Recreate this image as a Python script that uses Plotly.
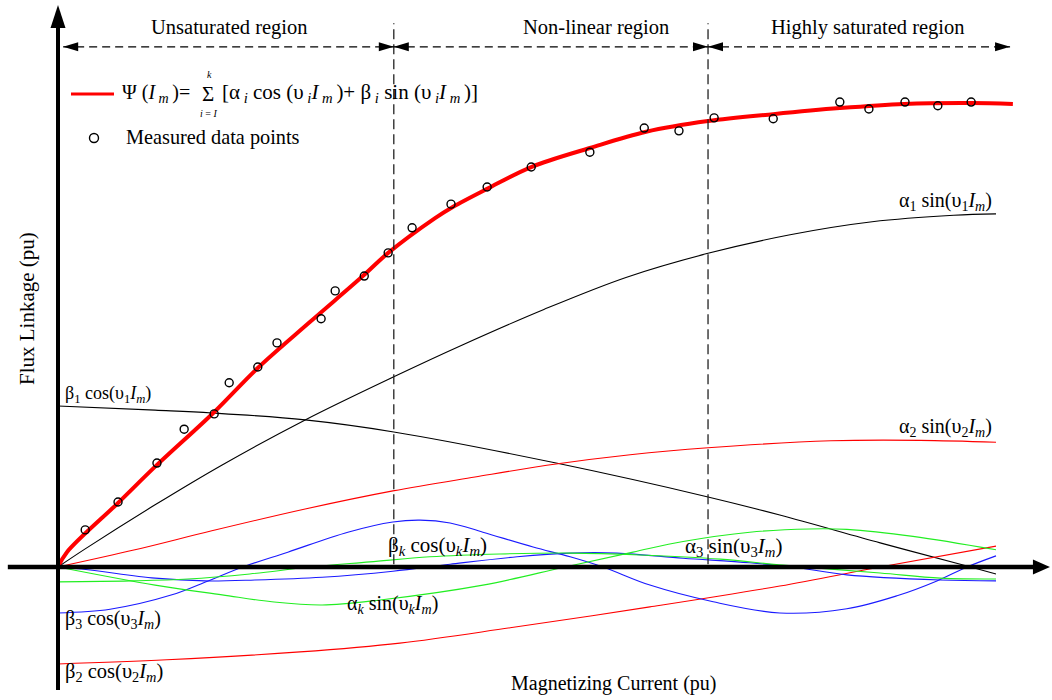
import plotly.graph_objects as go

W, H = 1052, 700
FONT = "Liberation Serif, Times New Roman, serif"

# ---- flux linkage curve Psi(Im) (pu) ----
psi_im = [0, 0.019, 0.128, 0.211, 0.331, 0.426, 0.537, 0.650, 0.704, 0.804, 0.840,
          0.915, 1.009, 1.134, 1.254, 1.386, 1.525, 1.667, 1.804, 1.947, 2.036]
psi_val = [0, 0.032, 0.138, 0.220, 0.332, 0.429, 0.528, 0.627, 0.677, 0.752, 0.775,
           0.815, 0.862, 0.903, 0.938, 0.961, 0.976, 0.989, 0.998, 1.000, 0.998]

# ---- measured data points ----
meas_im = [0.058, 0.128, 0.211, 0.269, 0.333, 0.365, 0.426, 0.467, 0.561, 0.591, 0.653,
           0.704, 0.755, 0.838, 0.915, 1.009, 1.134, 1.250, 1.324, 1.399, 1.525, 1.667,
           1.729, 1.806, 1.876, 1.947]
meas_val = [0.080, 0.140, 0.224, 0.297, 0.330, 0.397, 0.431, 0.483, 0.535, 0.595, 0.627,
            0.677, 0.731, 0.782, 0.819, 0.862, 0.894, 0.946, 0.940, 0.968, 0.966, 1.002,
            0.987, 1.002, 0.994, 1.002]

# ---- harmonic components ----
a1_im = [0, 0.058, 0.207, 0.350, 0.527, 0.716, 0.861, 1.036, 1.211, 1.386, 1.561, 1.736, 1.910, 2.0]
a1_val = [0, 0.039, 0.134, 0.220, 0.317, 0.410, 0.478, 0.555, 0.624, 0.676, 0.716, 0.744, 0.758, 0.761]

b1_im = [0, 0.207, 0.328, 0.527, 0.716, 1.062, 1.386, 1.539, 1.753, 1.938, 2.0]
b1_val = [0.347, 0.338, 0.332, 0.317, 0.291, 0.224, 0.151, 0.112, 0.052, 0.002, -0.015]

a2_im = [0, 0.164, 0.328, 0.527, 0.714, 0.889, 1.062, 1.220, 1.386, 1.648, 1.838, 2.0]
a2_val = [0, 0.037, 0.078, 0.125, 0.164, 0.194, 0.222, 0.242, 0.257, 0.272, 0.273, 0.269]

b2_im = [0, 0.232, 0.516, 0.729, 0.964, 1.262, 1.539, 1.753, 2.0]
b2_val = [-0.209, -0.200, -0.183, -0.164, -0.131, -0.086, -0.041, 0.0, 0.045]

b3_im = [0, 0.111, 0.243, 0.320, 0.394, 0.490, 0.618, 0.714, 0.772, 0.836, 0.906, 1.013,
         1.092, 1.162, 1.262, 1.397, 1.539, 1.682, 1.789, 1.874, 1.938, 2.0]
b3_val = [-0.099, -0.091, -0.060, -0.030, 0, 0.032, 0.075, 0.097, 0.101, 0.095, 0.075, 0.043,
          0.022, 0, -0.039, -0.075, -0.099, -0.090, -0.062, -0.030, 0, 0.024]

ak_im = [0, 0.207, 0.350, 0.456, 0.563, 0.687, 0.906, 1.081, 1.226, 1.333, 1.475, 1.603, 1.682, 1.823, 2.0]
ak_val = [0, -0.039, -0.060, -0.075, -0.082, -0.071, -0.039, 0, 0.032, 0.055, 0.075, 0.082, 0.081, 0.066, 0.037]

a3_im = [0, 0.154, 0.277, 0.409, 0.537, 0.665, 0.793, 0.942, 1.092, 1.241, 1.412, 1.546, 1.753, 1.881, 2.0]
a3_val = [-0.032, -0.030, -0.026, -0.015, 0, 0.011, 0.022, 0.028, 0.030, 0.026, 0.017, 0.004, -0.013, -0.024, -0.026]

bk_im = [0, 0.064, 0.207, 0.313, 0.420, 0.563, 0.714, 0.836, 0.979, 1.092, 1.192, 1.333, 1.475, 1.567, 1.682, 1.881, 2.0]
bk_val = [0, -0.006, -0.024, -0.030, -0.028, -0.022, -0.009, 0.006, 0.022, 0.030, 0.030, 0.019, 0.009, 0, -0.017, -0.028, -0.030]

# ---- operating regions ----
region_bounds = [0.716, 1.386]
region_names = ["Unsaturated region", "Non-linear region", "Highly saturated region"]

RED, GREEN, BLUE, BLACK = "#ff0000", "#22ee22", "#1a1aff", "#000000"

fig = go.Figure()

components = [
    (a1_im, a1_val, BLACK),
    (b1_im, b1_val, BLACK),
    (a2_im, a2_val, RED),
    (b2_im, b2_val, RED),
    (b3_im, b3_val, BLUE),
    (bk_im, bk_val, BLUE),
    (ak_im, ak_val, GREEN),
    (a3_im, a3_val, GREEN),
]
for xs, ys, col in components:
    fig.add_trace(go.Scatter(x=xs, y=ys, mode="lines",
                             line=dict(color=col, width=1.1, shape="spline", smoothing=1.0),
                             hoverinfo="skip"))

fig.add_trace(go.Scatter(x=psi_im, y=psi_val, mode="lines",
                         line=dict(color=RED, width=4, shape="spline", smoothing=1.0),
                         hoverinfo="skip"))
fig.add_trace(go.Scatter(x=meas_im, y=meas_val, mode="markers",
                         marker=dict(symbol="circle-open", size=8, color=BLACK,
                                     line=dict(width=1.4, color=BLACK)),
                         hoverinfo="skip"))


def paper(x, y):
    """Figure pixel position -> paper fraction."""
    return x / W, 1 - y / H


shapes = []
# coordinate axes
shapes.append(dict(type="line", xref="x", yref="y", x0=0, x1=0, y0=-0.265, y1=1.17,
                   line=dict(color=BLACK, width=4)))
shapes.append(dict(type="line", xref="x", yref="y", x0=-0.107, x1=2.085, y0=0, y1=0,
                   line=dict(color=BLACK, width=4.5)))
shapes.append(dict(type="path", xref="x", yref="y", xsizemode="pixel", ysizemode="pixel",
                   xanchor=0, yanchor=1.211, path="M 0 0 L -7.5 -23 L 7.5 -23 Z",
                   fillcolor=BLACK, line=dict(width=0)))
shapes.append(dict(type="path", xref="x", yref="y", xsizemode="pixel", ysizemode="pixel",
                   xanchor=2.115, yanchor=0, path="M 0 0 L -17 7.5 L -17 -7.5 Z",
                   fillcolor=BLACK, line=dict(width=0)))

# region boundaries
for b in region_bounds:
    shapes.append(dict(type="line", xref="x", yref="y", x0=b, x1=b, y0=0.006, y1=1.172,
                       line=dict(color="#222222", width=1.3, dash="10px,5px")))

# region span arrows
arrow_y = 1.121
span_edges = [0.011] + region_bounds + [2.030]
for i in range(len(region_names)):
    lo, hi = span_edges[i], span_edges[i + 1]
    shapes.append(dict(type="line", xref="x", yref="y", x0=lo, x1=hi, y0=arrow_y, y1=arrow_y,
                       line=dict(color=BLACK, width=1.3, dash="8px,5px")))
    for xa, path in ((lo, "M 0 0 L 15 4.5 L 15 -4.5 Z"), (hi, "M 0 0 L -15 4.5 L -15 -4.5 Z")):
        shapes.append(dict(type="path", xref="x", yref="y", xsizemode="pixel", ysizemode="pixel",
                           xanchor=xa, yanchor=arrow_y, path=path,
                           fillcolor=BLACK, line=dict(width=0)))

# legend glyphs
lx0, ly = paper(71, 94)
lx1, _ = paper(114, 94)
shapes.append(dict(type="line", xref="paper", yref="paper", x0=lx0, x1=lx1, y0=ly, y1=ly,
                   line=dict(color=RED, width=3)))
cx0, cy0 = paper(89.5, 142.5)
cx1, cy1 = paper(98.5, 133.5)
shapes.append(dict(type="circle", xref="paper", yref="paper", x0=cx0, x1=cx1, y0=cy0, y1=cy1,
                   line=dict(color=BLACK, width=1.4)))

annotations = []


def label(text, x, y, size=18, xanchor="left", **kw):
    px_, py_ = paper(x, y)
    annotations.append(dict(text=text, x=px_, y=py_, xref="paper", yref="paper",
                            xanchor=xanchor, yanchor="middle", showarrow=False,
                            font=dict(family=FONT, size=size, color=BLACK), **kw))


# region titles
for name, cx in zip(region_names, [229, 596, 868]):
    label(name, cx, 27, size=20.5, xanchor="center")

# legend entries
label("Ψ (<i>I</i><sub> <i>m</i> </sub>)=", 120, 93, size=20)
label("Σ", 208, 94, size=21, xanchor="center")
label("<i>k</i>", 209, 74, size=10, xanchor="center")
label("<i>i</i> = <i>I</i>", 208, 114, size=10, xanchor="center")
label("[α<sub> <i>i</i></sub> cos (υ<sub> <i>i</i></sub><i>I</i><sub> <i>m</i> </sub>)+ "
      "β<sub> <i>i</i></sub> sin (υ<sub> <i>i</i></sub><i>I</i><sub> <i>m</i> </sub>)]",
      220, 93, size=21)
label("Measured data points", 124, 137, size=20.3)

# axis titles
label("Magnetizing Current (pu)", 614, 683, size=20, xanchor="center")
label("Flux Linkage (pu)", 27, 309, size=21, xanchor="center", textangle=-90)

# component labels
label("α<sub>1</sub> sin(υ<sub>1</sub><i>I</i><sub><i>m</i></sub>)", 994, 201, size=20, xanchor="right")
label("α<sub>2</sub> sin(υ<sub>2</sub><i>I</i><sub><i>m</i></sub>)", 994, 427, size=20, xanchor="right")
label("β<sub>1</sub> cos(υ<sub>1</sub><i>I</i><sub><i>m</i></sub>)", 63, 394, size=18)
label("β<sub>3</sub> cos(υ<sub>3</sub><i>I</i><sub><i>m</i></sub>)", 63, 619, size=20)
label("β<sub>2</sub> cos(υ<sub>2</sub><i>I</i><sub><i>m</i></sub>)", 63, 672, size=20.5)
label("β<sub><i>k</i></sub> cos(υ<sub><i>k</i></sub><i>I</i><sub><i>m</i></sub>)", 386, 546, size=21)
label("α<sub><i>k</i></sub> sin(υ<sub><i>k</i></sub><i>I</i><sub><i>m</i></sub>)", 345, 604, size=20)
label("α<sub>3</sub> sin(υ<sub>3</sub><i>I</i><sub><i>m</i></sub>)", 683, 547, size=21)

fig.update_layout(
    width=W, height=H, autosize=False,
    margin=dict(l=0, r=0, t=0, b=0),
    paper_bgcolor="white", plot_bgcolor="white",
    showlegend=False,
    xaxis=dict(range=[-58 / 469, (W - 58) / 469], visible=False, fixedrange=True),
    yaxis=dict(range=[-(H - 567) / 464, 567 / 464], visible=False, fixedrange=True),
    shapes=shapes,
    annotations=annotations,
)

fig.write_html("out.html")
